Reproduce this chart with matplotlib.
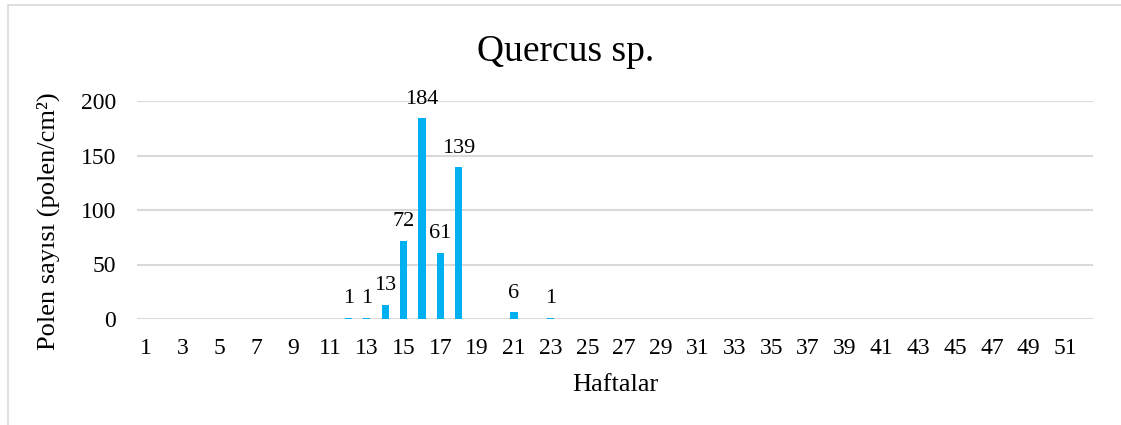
import numpy as np
import matplotlib
matplotlib.use("Agg")
import matplotlib.pyplot as plt
from matplotlib.patches import Rectangle

plt.rcParams['font.family'] = ['Liberation Serif', 'DejaVu Serif']

# weekly pollen counts, weeks 1..52 (NaN = no data label)
weeks = np.arange(1, 53)
counts = np.full(52, np.nan)
peak_weeks = [12, 13, 14, 15, 16, 17, 18, 21, 23]
peak_vals = [1, 1, 13, 72, 184, 61, 139, 6, 1]
for w, v in zip(peak_weeks, peak_vals):
    counts[w - 1] = v

yticks = [0, 50, 100, 150, 200]
title = "Quercus sp."
xlabel = "Haftalar"
ylabel = "Polen sayısı (polen/cm²)"

fig = plt.figure(figsize=(11.21, 4.25), dpi=100)
ax = fig.add_axes([137 / 1121, 1 - 319 / 425, (1093 - 137) / 1121, 218 / 425])

x = np.arange(len(weeks))
ax.bar(x, np.nan_to_num(counts), width=0.4, color="#00B0F0", zorder=3)
for xi, v in zip(x, counts):
    if not np.isnan(v):
        ax.annotate(f"{int(v)}", (xi, v), xytext=(0, 7), textcoords="offset points",
                    ha="center", va="bottom", fontsize=16, annotation_clip=False)

ax.set_xlim(-0.5, len(weeks) - 0.5)
ax.set_ylim(0, 200)
ax.set_yticks(yticks)
ax.set_xticks(x[::2])
ax.set_xticklabels([str(w) for w in weeks[::2]])
ax.tick_params(axis="both", length=0, labelsize=17)
ax.tick_params(axis="x", pad=14)
ax.tick_params(axis="y", pad=15)
ax.grid(axis="y", color="#D9D9D9", lw=1.5, zorder=0)
for s in ax.spines.values():
    s.set_visible(False)

fig.text(566 / 1121, 1 - 52 / 425, title, ha="center", va="center", fontsize=27)
fig.text(615 / 1121, 1 - 385 / 425, xlabel, ha="center", va="center", fontsize=19)
fig.text(48 / 1121, 1 - 221 / 425, ylabel, ha="center", va="center",
         rotation=90, fontsize=19)

fig.patches.append(Rectangle((8 / 1121, -0.01), 1.2, 1 - 5 / 425 + 0.01,
                             transform=fig.transFigure, fill=False,
                             edgecolor="#D9D9D9", lw=1.2))

fig.savefig("out.png", dpi=100)
